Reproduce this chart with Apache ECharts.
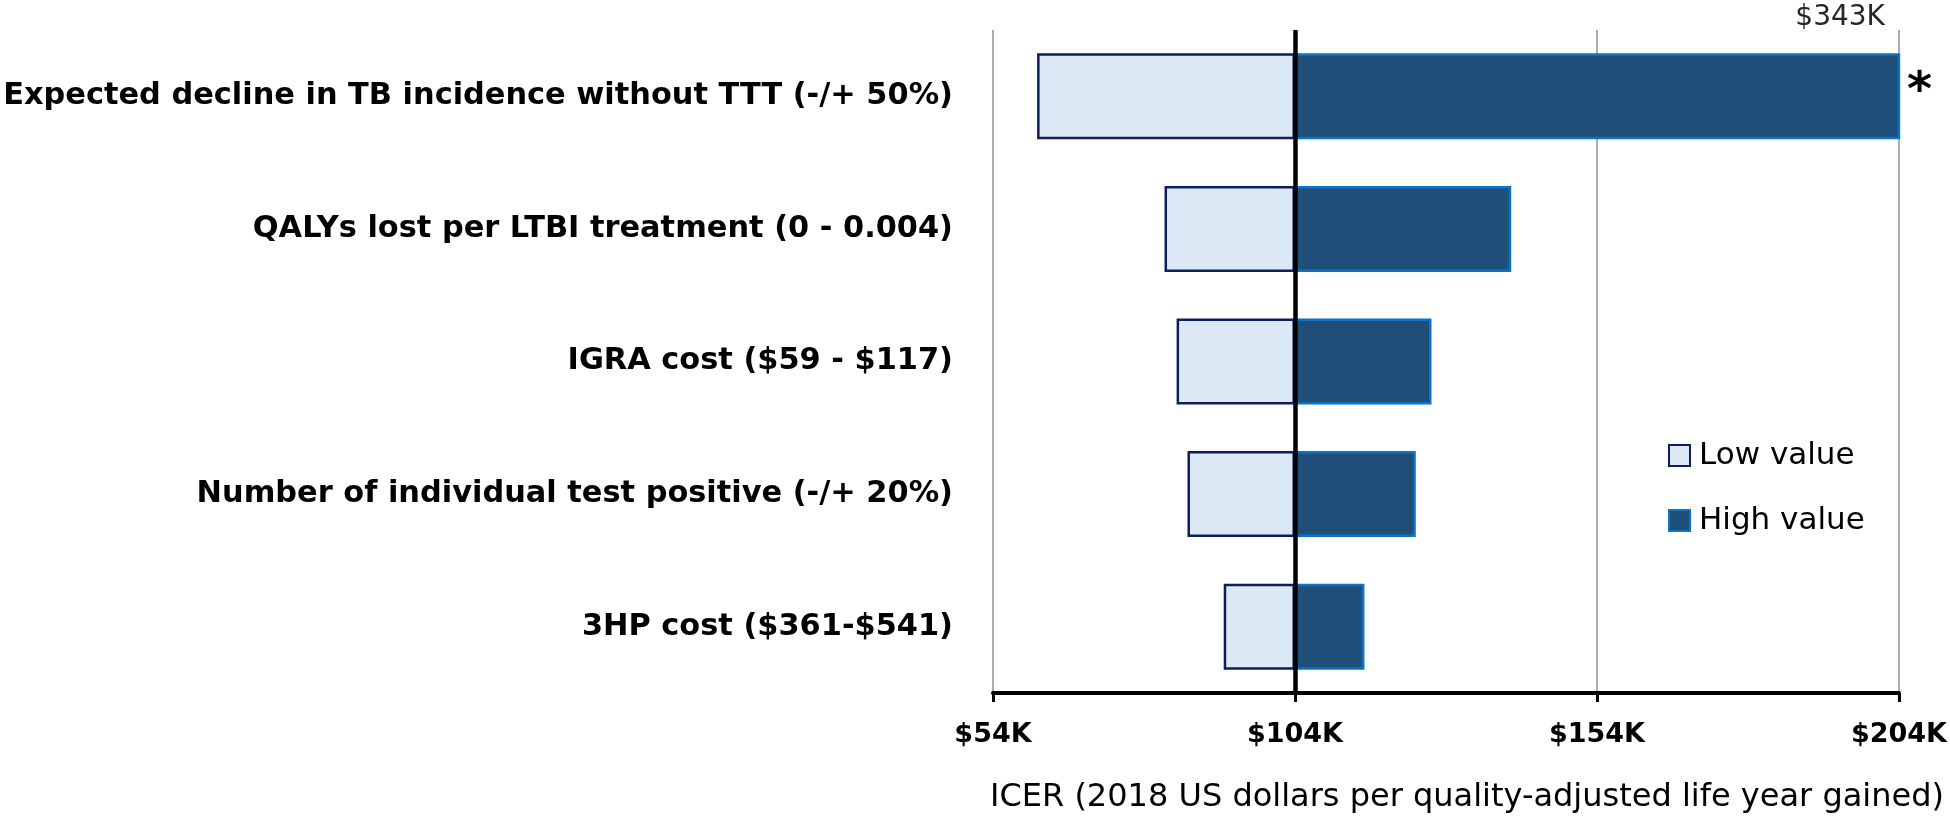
<!DOCTYPE html>
<html>
<head>
<meta charset="utf-8">
<script src="https://cdn.jsdelivr.net/npm/echarts@6/dist/echarts.min.js"></script>
<style>
html,body{margin:0;padding:0;background:#ffffff;overflow:hidden;}
#chart{width:1950px;height:827px;}
</style>
</head>
<body>
<div id="chart"></div>
<script>
// ---- Data ----
const categories = [
  'Expected decline in TB incidence without TTT (-/+ 50%)',
  'QALYs lost per LTBI treatment (0 - 0.004)',
  'IGRA cost ($59 - $117)',
  'Number of individual test positive (-/+ 20%)',
  '3HP cost ($361-$541)'
];
const baseValue = 104;                               // base-case ICER, $K
const lowValues  = [61.3, 82.4, 84.4, 86.2, 92.2];    // ICER at low parameter value, $K
const highValues = [343, 139.8, 126.6, 124.0, 115.5]; // ICER at high parameter value, $K
const tickValues = [54, 104, 154, 204];               // x-axis tick labels, $K
const axisMin = 54;
const axisMax = 204;
const seriesNames = ['Low value', 'High value'];
const axisTitle = 'ICER (2018 US dollars per quality-adjusted life year gained)';

// ---- Derived stack pieces for the tornado ----
const helperData = lowValues.slice();
const lowData = lowValues.map(v => +(baseValue - v).toFixed(2));
const highData = highValues.map(v => +(v - baseValue).toFixed(2));

const chart = echarts.init(document.getElementById('chart'), null, {renderer: 'canvas'});

const option = {
  animation: false,
  backgroundColor: '#ffffff',
  grid: {left: 993, right: 38, top: 30, bottom: 134, containLabel: false},
  legend: {
    data: seriesNames,
    orient: 'vertical',
    left: 1663,
    top: 435,
    itemWidth: 21,
    itemHeight: 21,
    itemGap: 34,
    icon: 'rect',
    textStyle: {fontFamily: 'DejaVu Sans', fontSize: 31, color: '#000000', padding: [0, 0, 0, 4]}
  },
  xAxis: {
    type: 'value',
    min: axisMin,
    max: axisMax,
    name: axisTitle,
    nameLocation: 'middle',
    nameGap: 89,
    nameTextStyle: {fontFamily: 'DejaVu Sans', fontSize: 32, color: '#000000', padding: [0, 0, 0, 42]},
    axisLine: {show: true, lineStyle: {color: '#000000', width: 4}},
    axisTick: {show: true, length: 9, lineStyle: {color: '#000000', width: 3}, customValues: tickValues},
    axisLabel: {
      customValues: tickValues,
      margin: 28,
      fontFamily: 'DejaVu Sans', fontWeight: 'bold', fontSize: 27, color: '#000000',
      formatter: v => '$' + v + 'K'
    },
    splitLine: {show: true, lineStyle: {color: '#909090', width: 1.5}}
  },
  yAxis: {
    type: 'category',
    data: categories,
    inverse: true,
    axisLine: {show: false},
    axisTick: {show: false},
    axisLabel: {
      margin: 40,
      fontFamily: 'DejaVu Sans', fontWeight: 'bold', fontSize: 30.4, color: '#000000'
    }
  },
  series: [
    {
      name: 'base',
      type: 'bar',
      stack: 'tornado',
      data: helperData,
      barWidth: 86,
      silent: true,
      clip: true,
      z: 10,
      itemStyle: {color: 'rgba(0,0,0,0)'},
      markLine: {
        silent: true,
        symbol: ['none', 'none'],
        label: {show: false},
        lineStyle: {color: '#000000', width: 4.5, type: 'solid'},
        data: [{xAxis: baseValue}]
      }
    },
    {
      name: seriesNames[0],
      type: 'bar',
      stack: 'tornado',
      data: lowData,
      barWidth: 86,
      clip: true,
      itemStyle: {color: '#dde8f5', borderColor: '#0b1f5c', borderWidth: 2.5}
    },
    {
      name: seriesNames[1],
      type: 'bar',
      stack: 'tornado',
      data: highData,
      barWidth: 86,
      clip: true,
      itemStyle: {color: '#1f4e79', borderColor: '#0b74c8', borderWidth: 2.5}
    }
  ]
};

chart.setOption(option);

const xRight = chart.convertToPixel({xAxisIndex: 0}, axisMax);
const yFirst = chart.convertToPixel({yAxisIndex: 0}, 0);
chart.setOption({
  graphic: [
    {
      type: 'text',
      x: xRight - 14,
      y: 18,
      style: {text: '$' + highValues[0] + 'K', align: 'right', verticalAlign: 'middle',
              font: '28px "DejaVu Sans"', fill: '#262626'}
    },
    {
      type: 'text',
      x: xRight + 8,
      y: yFirst - 4,
      style: {text: '*', align: 'left', verticalAlign: 'middle',
              font: 'bold 48px "DejaVu Sans"', fill: '#000000'}
    }
  ]
});
</script>
</body>
</html>
